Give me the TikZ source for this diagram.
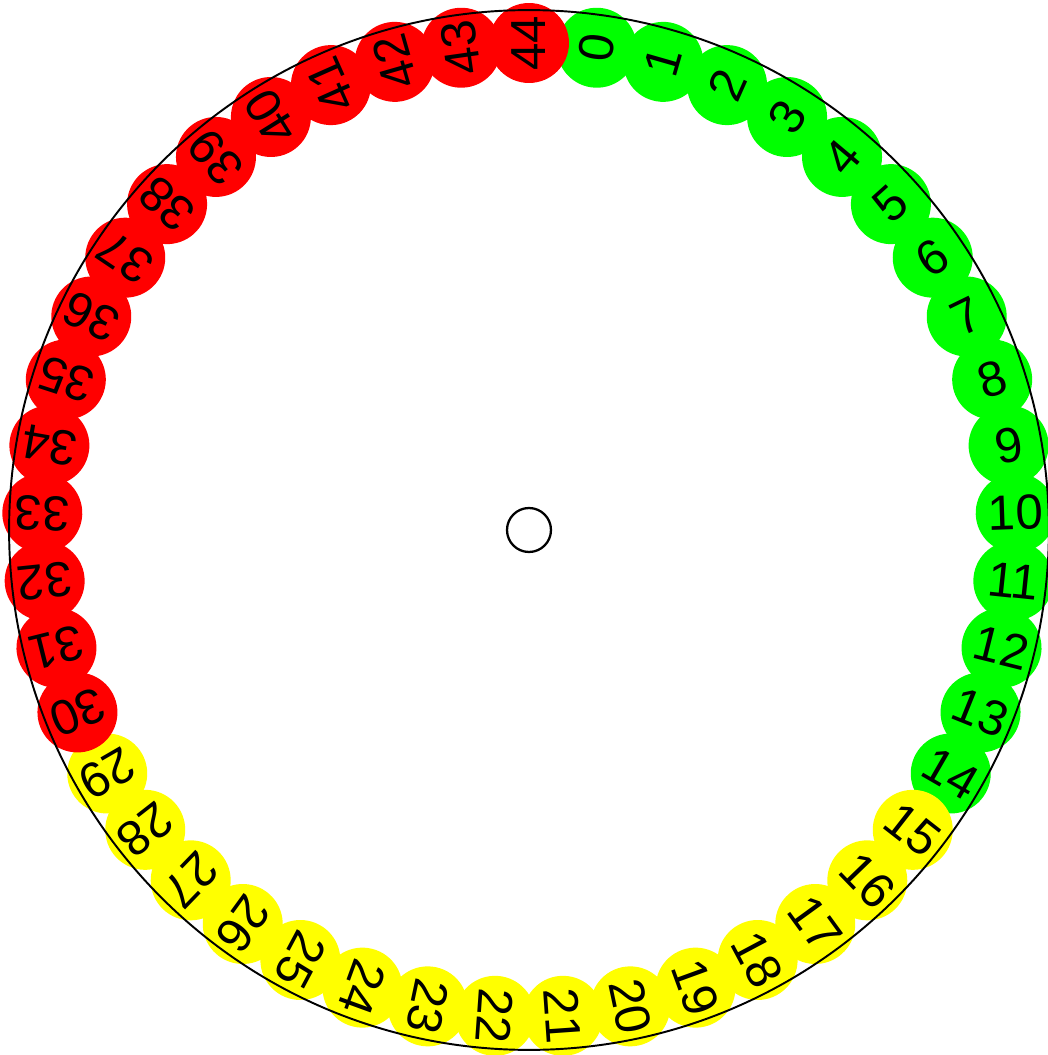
\documentclass[tikz,border=0pt]{standalone}
\usepackage{fontspec}
\setmainfont{Liberation Sans}
\definecolor{slotgreen}{HTML}{00FF00}
\definecolor{slotyellow}{HTML}{FFFF00}
\definecolor{slotred}{HTML}{FF0000}

\begin{document}
\begin{tikzpicture}[x=0.02cm, y=0.02cm,
  slot/.style={circle, minimum size=1.6cm, inner sep=0pt, font=\fontsize{28}{30}\selectfont}]
  \useasboundingbox (-529,-525) rectangle (519,530);
  \clip (-529,-525) rectangle (519,530);
  % the 45 slots, each one laid over the one before
  \foreach \k in {0,...,44} {
    \pgfmathsetmacro{\ang}{82-8*\k}
    \ifnum\k<15 \def\col{slotgreen}\else\ifnum\k<30 \def\col{slotyellow}\else\def\col{slotred}\fi\fi
    \node[slot, fill=\col, rotate=\ang] (s\k) at (\ang:487) {\k};
  }
  % rim and hub
  \node[circle, draw, line width=1.1pt, minimum size=20.8cm, inner sep=0pt] (rim) at (0,0) {};
  \node[circle, draw, line width=1.3pt, minimum size=0.88cm, inner sep=0pt] (hub) at (0,0) {};
\end{tikzpicture}
\end{document}
